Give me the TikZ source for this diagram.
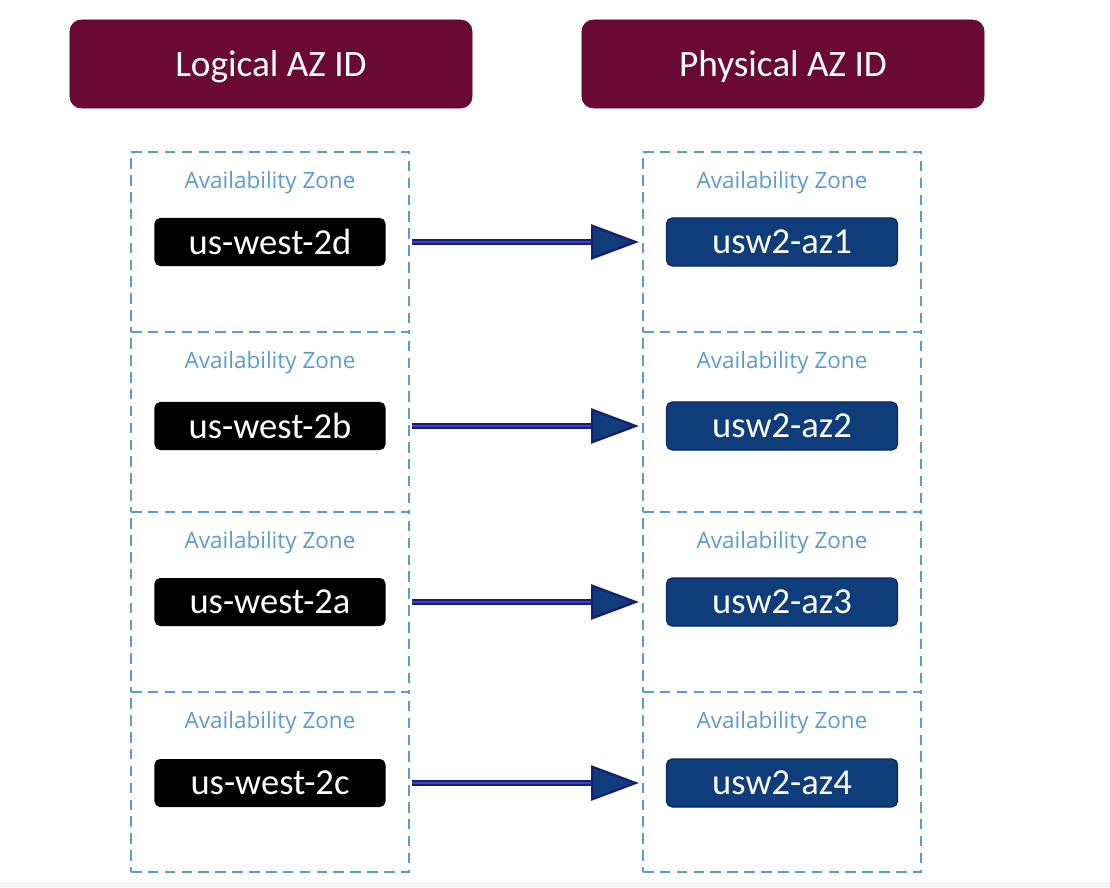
\documentclass[tikz,border=0pt]{standalone}
\usepackage{fontspec}
\setmainfont{Carlito}
\newfontfamily\zonefont{Open Sans}
\usetikzlibrary{arrows.meta,positioning,calc}
\definecolor{hdr}{RGB}{106,10,50}
\definecolor{zone}{RGB}{91,155,213}
\definecolor{phys}{RGB}{15,60,122}
\definecolor{physdark}{RGB}{10,40,90}
\definecolor{shaft}{RGB}{22,32,115}

\begin{document}
\begin{tikzpicture}[x=0.025cm, y=-0.025cm,
  header/.style={fill=hdr, draw=hdr!80!black, rounded corners=8pt, minimum width=10.05cm,
    minimum height=2.2cm, text depth=0pt, text=white, font=\fontsize{26.5}{30}\selectfont},
  zonebox/.style={draw=zone, dash pattern=on 7.5pt off 4.5pt, line width=1.5pt,
    minimum width=6.95cm, minimum height=4.5cm, inner sep=0pt},
  zonelabel/.style={text=zone, font=\zonefont\fontsize{16}{18}\selectfont},
  logical/.style={fill=black, rounded corners=4pt, minimum width=5.775cm,
    minimum height=1.2cm, text=white, font=\fontsize{26}{28}\selectfont},
  physical/.style={logical, fill=phys, draw=physdark, line width=0.8pt},
  map/.style={draw=shaft, line width=1.6pt, double=shaft!50!blue!80!white, double distance=1.3pt,
    -{Triangle[length=34pt, width=25pt, fill=phys]}}]

\useasboundingbox (0,0) rectangle (1110,887);
\fill[gray!8] (0,882) rectangle (1110,887);

\node[header] (logical) at (271,64) {Logical AZ ID};
\node[header] (physical) at (783,64) {Physical AZ ID};

% zones, one row every 180px
\node[zonebox] (zl1) at (270,242) {};
\node[zonebox] (zl2) at (270,422) {};
\node[zonebox] (zl3) at (270,602) {};
\node[zonebox] (zl4) at (270,782) {};
\node[zonebox] (zp1) at (782,242) {};
\node[zonebox] (zp2) at (782,422) {};
\node[zonebox] (zp3) at (782,602) {};
\node[zonebox] (zp4) at (782,782) {};

\node[zonelabel] (azl1) at ($(zl1.north)+(0,32)$) {Availability Zone};
\node[zonelabel] (azl2) at ($(zl2.north)+(0,32)$) {Availability Zone};
\node[zonelabel] (azl3) at ($(zl3.north)+(0,32)$) {Availability Zone};
\node[zonelabel] (azl4) at ($(zl4.north)+(0,32)$) {Availability Zone};
\node[zonelabel] (azp1) at ($(zp1.north)+(0,32)$) {Availability Zone};
\node[zonelabel] (azp2) at ($(zp2.north)+(0,32)$) {Availability Zone};
\node[zonelabel] (azp3) at ($(zp3.north)+(0,32)$) {Availability Zone};
\node[zonelabel] (azp4) at ($(zp4.north)+(0,32)$) {Availability Zone};

\node[logical] (l1) at (zl1) {us-west-2d};
\node[logical] (l2) at ($(zl2)+(0,4)$) {us-west-2b};
\node[logical] (l3) at (zl3) {us-west-2a};
\node[logical] (l4) at ($(zl4)+(0,1)$) {us-west-2c};
\node[physical] (p1) at (zp1) {usw2-az1};
\node[physical] (p2) at ($(zp2)+(0,4)$) {usw2-az2};
\node[physical] (p3) at (zp3) {usw2-az3};
\node[physical] (p4) at ($(zp4)+(0,1)$) {usw2-az4};

\draw[map] ($(zl1.east |- l1)+(2,0)$) -- ($(zp1.west |- p1)+(-3,0)$);
\draw[map] ($(zl2.east |- l2)+(2,0)$) -- ($(zp2.west |- p2)+(-3,0)$);
\draw[map] ($(zl3.east |- l3)+(2,0)$) -- ($(zp3.west |- p3)+(-3,0)$);
\draw[map] ($(zl4.east |- l4)+(2,0)$) -- ($(zp4.west |- p4)+(-3,0)$);
\end{tikzpicture}
\end{document}
